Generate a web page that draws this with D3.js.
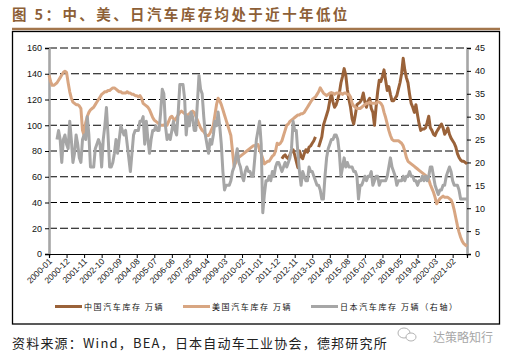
<!DOCTYPE html>
<html><head><meta charset="utf-8">
<script src="https://cdn.jsdelivr.net/npm/d3@7"></script>
<style>
body{margin:0;background:#fff;}
svg{display:block;font-family:"Liberation Sans",Arial,sans-serif;}
.cjk{font-family:"Noto Sans CJK SC","Noto Sans",sans-serif;}
</style></head>
<body>
<svg id="chart" width="510" height="358"></svg>
<script>
// ---- DATA ----
const startYear = 2000; // monthly categories from 2000-01 to 2021-11
const xTickLabels = ["2000-01","2000-12","2001-11","2002-10","2003-09","2004-08","2005-07","2006-06","2007-05","2008-04","2009-03","2010-02","2011-01","2011-12","2012-11","2013-10","2014-09","2015-08","2016-07","2017-06","2018-05","2019-04","2020-03","2021-02"];
const leftTicks = [0,20,40,60,80,100,120,140,160];
const rightTicks = [0,5,10,15,20,25,30,35,40,45];
const seriesNames = ["中国汽车库存 万辆","美国汽车库存 万辆","日本汽车库存 万辆（右轴）"];

const china = [
 null,null,null,null,null,null,null,null,null,null,null,null,
 null,null,null,null,null,null,null,null,null,null,null,null,
 null,null,null,null,null,null,null,null,null,null,null,null,
 null,null,null,null,null,null,null,null,null,null,null,null,
 null,null,null,null,null,null,null,null,null,null,null,null,
 null,null,null,null,null,null,null,null,null,null,null,null,
 null,null,null,null,null,null,null,null,null,null,null,null,
 null,null,null,null,null,null,null,null,null,null,null,null,
 null,null,null,null,null,null,null,null,null,null,null,null,
 null,null,null,null,null,null,null,null,null,null,null,null,
 null,null,null,null,null,null,null,null,null,null,null,null,
 null,null,null,null,null,null,null,null,null,null,null,null,
 null,null,74,76,77,75,74,77,80,81,77,72,
 67,80,76,74,78,81,79,83,84,86,88,91,
 null,83,87,91,100,104,108,112,119,125,118,114,
 116,120,125,133,138,144,139,128,120,114,105,101,
 108,116,117,118,120,125,118,114,119,121,113,110,
 100,114,126,135,134,138,143,135,127,130,124,119,
 119,121,123,128,133,140,152,143,137,133,124,117,
 114,110,116,108,101,96,97,97,98,102,107,98,
 96,93,92,95,97,99,101,98,93,95,98,93,
 90,88,86,83,78,75,73,72,72,71,70
];
const usa = [
 139,134,131,131,132,133,135,137,139,141,142,141,
 133,126,121,118,117,116,116,115,113,96,92,102,
 107,110,112,113,114,116,118,120,122,124,125,126,
 126,127,127,128,129,129,128,127,126,126,125,125,
 125,126,125,125,124,124,123,123,122,123,121,117,
 116,115,114,112,109,106,104,103,102,101,100,100,
 100,101,100,103,106,107,105,104,106,108,110,111,
 110,109,108,108,109,110,111,110,107,104,101,98,
 96,95,93,92,92,94,97,100,108,116,121,119,
 116,112,108,104,100,96,92,80,68,71,74,75,
 76,77,78,79,80,81,82,83,84,84,85,85,
 81,78,74,70,71,72,72,74,76,77,80,86,
 85,86,88,92,96,100,101,103,104,105,106,107,
 108,108,109,109,110,112,114,116,118,120,121,122,
 124,126,129,127,125,124,123,124,125,125,125,124,
 125,125,125,125,124,125,125,124,124,122,117,115,
 114,113,113,113,114,115,116,117,117,118,117,117,
 117,117,118,118,117,115,110,106,101,96,92,89,
 88,88,88,88,87,86,84,80,75,72,71,70,
 69,68,67,66,65,64,63,62,61,60,58,54,
 51,48,44,39,41,43,44,45,44,44,44,43,
 42,39,34,28,22,17,13,10,8,7,6
];
const japan = [
 null,null,null,null,null,25,27,25,20,25,26,24,
 23,29,25,20,22,26,24,21,20,25,26,25,
 30,26,19,19,19,23,24,25,24,19,25,28,
 32,26,19,19,20,22,25,22,25,28,27,26,
 27,24,21,18,22,26,27,27,27,29,29,30,
 24,29,25,22,25,27,27,28,27,27,31,36,
 35,28,25,26,25,27,29,27,26,31,37,37,
 37,34,26,30,28,31,30,27,27,33,39,36,
 35,30,26,24,22,25,24,26,29,28,31,28,
 24,18,14,15,15,15,16,18,19,21,23,20,
 19,17,16,18,19,18,18,17,17,21,25,27,
 29,24,9,13,16,16,17,16,18,17,19,20,
 20,19,18,19,20,19,20,21,23,29,27,27,
 22,18,15,18,17,16,16,19,18,18,17,16,
 15,15,14,12,12,17,21,23,24,25,25,26,
 26,25,22,17,19,21,19,20,19,19,19,18,
 18,17,12,15,15,16,17,16,17,17,18,15,
 16,17,17,15,16,16,16,16,17,19,21,19,
 18,17,15,16,16,16,17,16,17,17,18,17,
 17,16,16,15,16,16,17,16,17,16,17,19,
 19,17,15,14,13,14,14,15,15,17,18,19,
 18,16,15,15,15,14,12,12,12,12,12
];
const colors = ["#9a6239","#d8a682","#a6a6a6"];

// ---- CHART ----
const svg = d3.select("#chart");
const n = usa.length;
const x = d3.scaleLinear().domain([0, n-1]).range([49, 467]);
const yL = d3.scaleLinear().domain([0,160]).range([254,48]);
const yR = d3.scaleLinear().domain([0,45]).range([254,48]);

// title
svg.append("text").attr("class","cjk").attr("x",12).attr("y",20)
  .attr("font-size",14.5).attr("font-weight","bold").attr("fill","#8d5f37")
  .attr("letter-spacing",2.4)
  .text("图 5：中、美、日汽车库存均处于近十年低位");
svg.append("line").attr("x1",12).attr("x2",500).attr("y1",29).attr("y2",29)
  .attr("stroke","#a3764c").attr("stroke-width",2.5);
// frame
svg.append("rect").attr("x",12.5).attr("y",31.5).attr("width",487).attr("height",292.5)
  .attr("fill","none").attr("stroke","#000").attr("stroke-width",1.3);

// gridlines
svg.append("g").selectAll("line").data(leftTicks.filter(d=>d>0)).join("line")
  .attr("x1",49).attr("x2",467).attr("y1",d=>yL(d)).attr("y2",d=>yL(d))
  .attr("stroke","#000").attr("stroke-width",1).attr("stroke-dasharray","8,3");

// left axis
const gL = svg.append("g").attr("transform","translate(49,0)")
  .call(d3.axisLeft(yL).tickValues(leftTicks).tickSize(4).tickPadding(3));
gL.select(".domain").attr("stroke","#a6a6a6").attr("stroke-width",2.6);
gL.selectAll(".tick line").attr("stroke","#000");
gL.selectAll("text").attr("font-size",9).attr("fill","#111").attr("font-family","Liberation Sans, Arial, sans-serif");

// right axis
const gR = svg.append("g").attr("transform","translate(467,0)")
  .call(d3.axisRight(yR).tickValues(rightTicks).tickSize(4).tickPadding(4));
gR.select(".domain").attr("stroke","#a6a6a6").attr("stroke-width",2.6);
gR.selectAll(".tick line").attr("stroke","#000");
gR.selectAll("text").attr("font-size",9).attr("fill","#111").attr("font-family","Liberation Sans, Arial, sans-serif");

// bottom axis
const tickIdx = xTickLabels.map((d,i)=>i*11);
const gB = svg.append("g").attr("transform","translate(0,254)")
  .call(d3.axisBottom(x).tickValues(tickIdx).tickFormat((d,i)=>xTickLabels[i]).tickSize(4));
gB.select(".domain").attr("stroke","#000").attr("stroke-width",1.2);
gB.selectAll(".tick line").attr("stroke","#000");
gB.selectAll("text").attr("font-size",8.5).attr("fill","#111")
  .attr("font-family","Liberation Sans, Arial, sans-serif")
  .attr("text-anchor","end").attr("dy",0).attr("y",0)
  .attr("transform","translate(3,8) rotate(-45)");

// lines
const lineL = d3.line().defined(d=>d!=null).x((d,i)=>x(i)).y(d=>yL(d));
const lineR = d3.line().defined(d=>d!=null).x((d,i)=>x(i)).y(d=>yR(d));
svg.append("path").datum(china).attr("d",lineL).attr("fill","none")
  .attr("stroke",colors[0]).attr("stroke-width",3).attr("stroke-linejoin","round");
svg.append("path").datum(usa).attr("d",lineL).attr("fill","none")
  .attr("stroke",colors[1]).attr("stroke-width",3).attr("stroke-linejoin","round");
svg.append("path").datum(japan).attr("d",lineR).attr("fill","none")
  .attr("stroke",colors[2]).attr("stroke-width",3).attr("stroke-linejoin","round");

// legend
const legX = [55,183,311];
const lg = svg.append("g");
seriesNames.forEach((s,i)=>{
  lg.append("line").attr("x1",legX[i]).attr("x2",legX[i]+27).attr("y1",306.5).attr("y2",306.5)
    .attr("stroke",colors[i]).attr("stroke-width",3);
  lg.append("text").attr("class","cjk").attr("x",legX[i]+29).attr("y",309.5)
    .attr("font-size",8).attr("letter-spacing",1.6).attr("fill","#111").text(s);
});

// source
svg.append("text").attr("class","cjk").attr("x",12).attr("y",347.5)
  .attr("font-size",13).attr("letter-spacing",1.2).attr("fill","#222")
  .text("资料来源：Wind，BEA，日本自动车工业协会，德邦研究所");

// watermark
const wm = svg.append("g").attr("opacity",0.75);
wm.append("ellipse").attr("cx",404).attr("cy",333).attr("rx",6).attr("ry",5)
  .attr("fill","none").attr("stroke","#999").attr("stroke-width",1);
wm.append("ellipse").attr("cx",411).attr("cy",337).attr("rx",5).attr("ry",4)
  .attr("fill","#fff").attr("stroke","#999").attr("stroke-width",1);
wm.append("text").attr("class","cjk").attr("x",433).attr("y",342)
  .attr("font-size",12).attr("fill","#8a8a8a").text("达策略知行");
</script>
</body></html>
